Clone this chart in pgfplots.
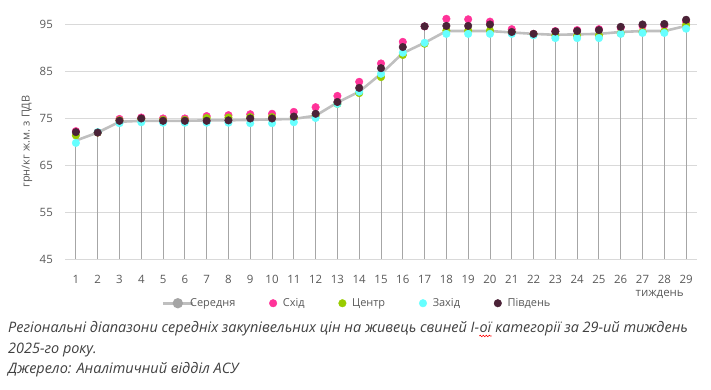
\documentclass[border=0pt]{standalone}
\usepackage{pgfplots}
\pgfplotsset{compat=1.18}
\usepackage{pgfplotstable}
\usepackage{fontspec}
\setmainfont{Open Sans}
\usetikzlibrary{decorations.pathmorphing}
\definecolor{gridgray}{HTML}{D9D9D9}
\definecolor{labelgray}{HTML}{595959}
\definecolor{dropgray}{HTML}{A6A6A6}
\definecolor{avgline}{HTML}{BFBFBF}
\definecolor{avgmark}{HTML}{A5A5A5}
\definecolor{east}{HTML}{FF3399}
\definecolor{center}{HTML}{99CC00}
\definecolor{west}{HTML}{66FFFF}
\definecolor{south}{HTML}{4B2237}
\definecolor{captxt}{HTML}{404040}

\pgfplotstableread{
week avg east center west south
1 70.2 72.2 71.3 69.7 72.0
2 71.9 71.9 71.9 72.0 71.9
3 74.2 74.8 74.5 73.9 74.4
4 74.4 75.1 74.8 74.1 74.9
5 74.4 74.9 74.6 74.0 74.4
6 74.4 74.9 74.6 74.0 74.4
7 74.5 75.4 75.0 74.0 74.4
8 74.5 75.6 75.1 74.0 74.5
9 74.6 75.8 75.2 73.9 74.9
10 74.7 75.9 75.2 73.9 74.9
11 74.8 76.3 75.0 74.1 75.3
12 75.5 77.3 75.5 75.0 75.9
13 78.3 79.7 78.0 78.0 78.4
14 80.6 82.7 80.3 80.6 81.4
15 84.4 86.6 83.7 84.4 85.6
16 88.8 91.2 88.4 88.9 90.1
17 91.0 94.5 90.8 91.0 94.5
18 93.5 96.1 93.6 92.9 94.6
19 93.5 96.0 93.6 92.9 94.6
20 93.5 95.5 93.6 92.9 94.9
21 93.2 93.9 93.2 92.9 93.3
22 92.9 92.9 92.8 92.6 92.9
23 92.7 93.5 92.6 92.0 93.4
24 92.8 93.7 92.5 92.0 93.5
25 92.9 93.9 92.6 92.0 93.7
26 93.3 94.2 93.0 92.9 94.4
27 93.5 94.6 93.3 93.1 94.9
28 93.5 94.7 93.4 93.1 95.0
29 94.6 95.5 94.8 94.0 95.9
}\datatable

\begin{document}
\begin{tikzpicture}
\useasboundingbox (0,0) rectangle (711bp,390bp);
\begin{axis}[
  at={(65bp,131bp)}, anchor=south west,
  scale only axis, width=632bp, height=244.4bp,
  xmin=0.5, xmax=29.5, ymin=45, ymax=97,
  xtick={1,...,29}, ytick={45,55,...,95},
  axis line style={draw=none}, major tick length=0pt,
  ymajorgrids, grid style={color=gridgray, line width=0.9bp},
  tick label style={font=\fontsize{11.5}{13}\selectfont, color=labelgray},
  /pgf/number format/assume math mode=true,
  yticklabel style={anchor=east, inner sep=0pt, xshift=-12bp},
  xticklabel style={anchor=center, inner sep=0pt, yshift=-20bp},
  every axis y label/.style={at={(axis description cs:-0.060,0.481)}, rotate=90, anchor=center,
     font=\fontsize{11}{13}\selectfont, color=labelgray},
  every axis x label/.style={at={(axis description cs:0.941,-0.147)}, anchor=center,
     font=\fontsize{11.5}{13}\selectfont, color=labelgray},
  ylabel={грн/кг ж.м. з ПДВ},
  xlabel={тиждень},
  legend columns=5,
  legend style={draw=none, fill=none, at={(0.462,-0.181)}, anchor=center,
     font=\fontsize{11}{13}\selectfont, text=labelgray, inner sep=0pt,
     /tikz/every even column/.append style={column sep=32bp}},
  legend cell align=left,
]
\foreach \s in {east,center,west,south,avg}{
  \addplot[ycomb, draw=dropgray, line width=0.9bp, forget plot] table[x=week,y=\s]{\datatable};
}
\addplot[color=avgline, line width=2.6bp, no marks,
  legend image code/.code={\draw[line width=2.6bp,color=avgline] (0bp,0bp) -- (30bp,0bp);
     \fill[avgmark] (15bp,0bp) circle (3.8bp);}] table[x=week,y=avg]{\datatable};
\addlegendentry{\hspace{-6bp}Середня}
\addplot[only marks, mark=*, mark size=3.8bp, color=east] table[x=week,y=east]{\datatable};
\addlegendentry{\hspace{4bp}Схід}
\addplot[only marks, mark=*, mark size=3.8bp, color=center] table[x=week,y=center]{\datatable};
\addlegendentry{\hspace{4bp}Центр}
\addplot[only marks, mark=*, mark size=3.8bp, color=west] table[x=week,y=west]{\datatable};
\addlegendentry{\hspace{4bp}Захід}
\addplot[only marks, mark=*, mark size=3.8bp, color=south] table[x=week,y=south]{\datatable};
\addlegendentry{\hspace{4bp}Південь}
\end{axis}
\begin{scope}[every node/.style={inner sep=0pt, text=captxt,
    font=\itshape\fontsize{14.5}{17}\selectfont}]
\node[anchor=base west] (a) at (8bp,57bp) {Регіональні діапазони середніх закупівельних цін на живець свиней І-};
\node[anchor=base west] (b) at (a.base east) {ої};
\node[anchor=base west] (c) at (b.base east) {\ категорії за 29-ий тиждень};
\draw[red, line width=0.6bp, decorate, decoration={snake, amplitude=0.8bp, segment length=3bp}]
   ([yshift=-3bp]b.base west) -- ([yshift=-3bp]b.base east);
\node[anchor=base west] at (8bp,37bp) {2025-го року.};
\node[anchor=base west] at (8bp,17bp) {Джерело: Аналітичний відділ АСУ};
\end{scope}
\end{tikzpicture}
\end{document}
